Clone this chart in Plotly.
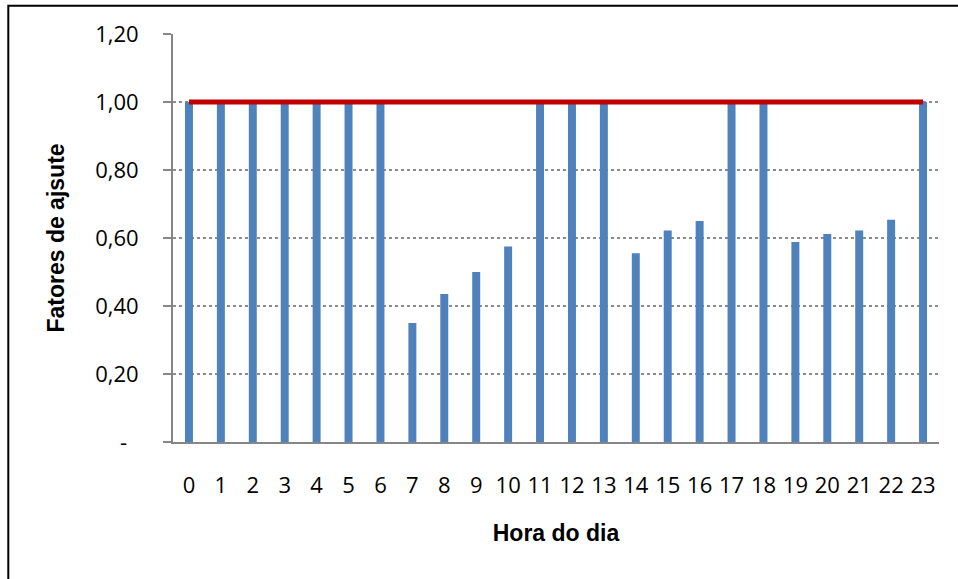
import plotly.graph_objects as go

# Hourly adjustment factors (hora do dia -> fator)
hours = list(range(24))
factors = [1.00, 1.00, 1.00, 1.00, 1.00, 1.00, 1.00, 0.350, 0.435, 0.500,
           0.575, 1.00, 1.00, 1.00, 0.555, 0.622, 0.650, 1.00, 1.00, 0.588,
           0.612, 0.622, 0.654, 1.00]
reference = [1.00] * 24

y_ticks = [0.0, 0.2, 0.4, 0.6, 0.8, 1.0, 1.2]
y_ticklabels = ["-\u00a0\u00a0", "0,20", "0,40", "0,60", "0,80", "1,00", "1,20"]

AXIS_GREY = "#868686"
TICK_FONT = dict(family="Open Sans, Calibri, sans-serif", size=22, color="#000000")
TITLE_FONT = dict(family="Liberation Sans, Arial, sans-serif", size=23,
                  color="#000000", weight="bold")

fig = go.Figure()

fig.add_trace(go.Bar(
    x=hours, y=factors,
    width=0.25,
    marker=dict(color="#4F81BD", line=dict(width=0)),
    showlegend=False,
))

fig.add_trace(go.Scatter(
    x=hours, y=reference,
    mode="lines",
    line=dict(color="#C00000", width=5),
    showlegend=False,
))

W, H = 958, 579
L, R, T, B = 173, 19, 34, 137
pw, ph = W - L - R, H - T - B

# outer chart frame (left and top edges sit inside the page)
fig.add_shape(
    type="rect", xref="paper", yref="paper",
    x0=(8.3 - L) / pw, x1=(W + 10 - L) / pw,
    y0=-(B + 10) / ph, y1=1 + (T - 5.8) / ph,
    line=dict(color="#000000", width=2),
    fillcolor="rgba(0,0,0,0)", layer="below",
)

fig.update_layout(
    width=W, height=H,
    margin=dict(l=L, r=R, t=T, b=B, autoexpand=False),
    paper_bgcolor="#FFFFFF", plot_bgcolor="#FFFFFF",
    bargap=0.75,
    xaxis=dict(
        range=[-0.5, 23.5],
        tickmode="array", tickvals=hours, ticktext=[str(h) for h in hours],
        showline=True, linecolor=AXIS_GREY, linewidth=2,
        showgrid=False, zeroline=False, ticks="",
        tickfont=TICK_FONT, ticklabelstandoff=23,
        title=dict(text="Hora do dia", font=TITLE_FONT, standoff=26),
        automargin=False,
    ),
    yaxis=dict(
        range=[0, 1.2],
        tickmode="array", tickvals=y_ticks, ticktext=y_ticklabels,
        showline=True, linecolor=AXIS_GREY, linewidth=2,
        ticks="outside", ticklen=8, tickwidth=2, tickcolor=AXIS_GREY,
        showgrid=True, gridcolor="#8C8C8C", gridwidth=1.5, griddash="dot",
        zeroline=False,
        tickfont=TICK_FONT, ticklabelstandoff=20,
        title=dict(text="Fatores de ajsute", font=TITLE_FONT, standoff=24),
        automargin=False,
    ),
)

fig.write_html("out.html")
